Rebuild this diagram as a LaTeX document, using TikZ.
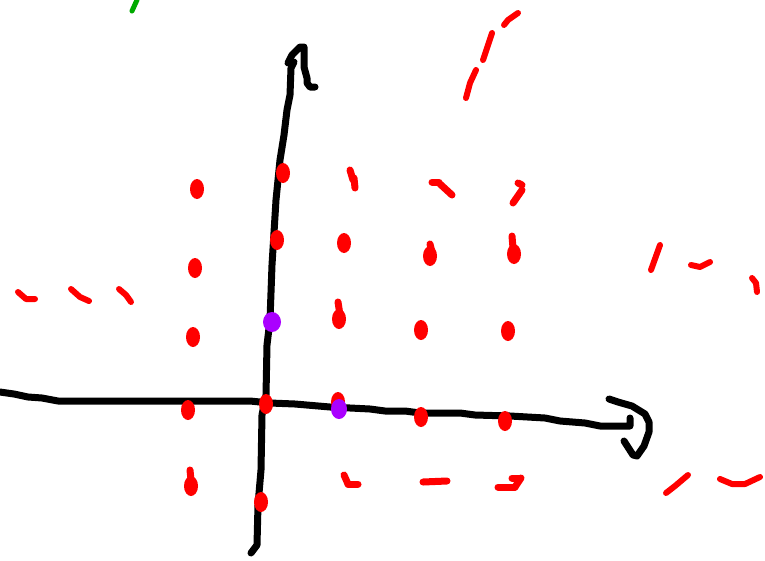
\documentclass[tikz,border=0pt]{standalone}
\usepackage{xcolor}
\definecolor{penred}{RGB}{255,0,0}
\definecolor{penpurple}{RGB}{170,0,255}
\definecolor{pengreen}{RGB}{0,170,0}

\begin{document}
\begin{tikzpicture}[x=1pt, y=-1pt, line cap=round, line join=round,
  axisline/.style={line width=7pt, black},
  dashline/.style={line width=6pt, penred},
  dot/.style={penred},
  basisdot/.style={penpurple}]
\useasboundingbox (0,0) rectangle (765,560);
% green stroke at the top
\draw[line width=5pt, pengreen] (132,11) -- (137,0);
% vertical axis with hand-drawn head
\draw[axisline] (251,553) -- (257,545) -- (258,505) -- (261,470) -- (262,415) -- (266,395) -- (267,345) -- (270,320) -- (272,265) -- (276,200) -- (280,160) -- (284,135) -- (287,110) -- (290,95) -- (291,68) -- (294,62);
\draw[axisline] (288,63) -- (292,55) -- (300,47) -- (304,47) -- (304,67) -- (307,78) -- (307,83) -- (310,87) -- (315,87);
% horizontal axis with hand-drawn head
\draw[axisline] (0,392) -- (14,394) -- (28,397) -- (42,398) -- (58,401) -- (250,401) -- (270,403) -- (295,404) -- (330,407) -- (370,409) -- (385,411) -- (405,411) -- (420,413) -- (460,413) -- (475,415) -- (510,416) -- (545,418) -- (560,421) -- (585,423) -- (600,426) -- (630,426) -- (630,418);
\draw[axisline] (609,399) -- (618,402) -- (632,406) -- (645,414) -- (649,422) -- (649,432) -- (644,446) -- (637,456) -- (633,455) -- (624,441);
% lattice points
\foreach \px/\py in {197/189, 195/268, 193/337, 188/410, 191/486,
    283/173, 277/240, 339/319, 421/330, 508/331,
    266/404, 421/417, 505/421, 261/502,
    344/243, 430/256, 514/254, 338/402}
  \fill[dot] (\px,\py) ellipse (7 and 10);
\foreach \ax/\ay/\bx/\by in {350/170/353/180, 354/178/355/188,
    432/182/439/182, 440/184/452/195,
    518/183/522/185, 522/190/513/203,
    338/302/340/315, 512/236/513/248, 430/244/432/252,
    344/475/348/484, 348/484/358/484,
    423/482/447/481, 498/487/515/487, 515/487/521/478, 519/478/512/478,
    198/184/198/190, 190/470/191/480}
  \draw[dot, line width=7pt] (\ax,\ay) -- (\bx,\by);
% basis vectors (purple)
\fill[basisdot] (272,322) ellipse (9 and 10);
\fill[basisdot] (339,409) ellipse (8 and 10);
% red dashes
\draw[dashline] (466,98) -- (470,83) -- (476,70);
\draw[dashline] (483,60) -- (487,48) -- (492,33);
\draw[dashline] (504,25) -- (508,20) -- (518,13);
\draw[dashline] (18,292) -- (26,299) -- (35,299);
\draw[dashline] (71,289) -- (80,297) -- (89,301);
\draw[dashline] (119,289) -- (126,295) -- (131,302);
\draw[dashline] (651,270) -- (660,245);
\draw[dashline] (691,265) -- (700,267) -- (710,262);
\draw[dashline] (752,278) -- (756,283) -- (757,292);
\draw[dashline] (666,493) -- (675,486) -- (688,475);
\draw[dashline] (720,479) -- (732,484) -- (745,484) -- (760,477);
\end{tikzpicture}
\end{document}
